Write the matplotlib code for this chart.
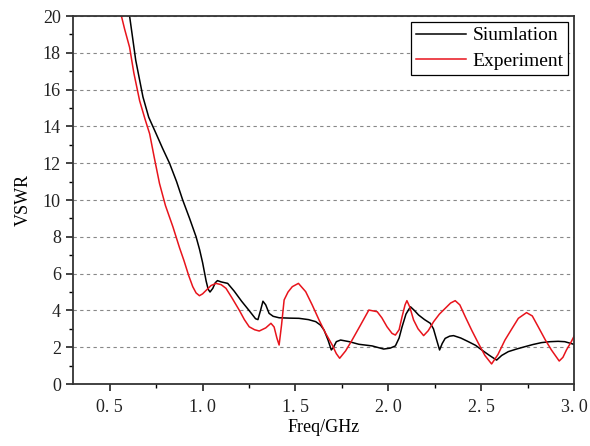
import matplotlib.pyplot as plt
from matplotlib.ticker import MultipleLocator

plt.rcParams['font.family'] = ['Liberation Serif', 'DejaVu Serif']

# simulation curve
sim_f = [0.58, 0.607, 0.64, 0.679, 0.71, 0.75, 0.785, 0.822, 0.86, 0.893,
         0.93, 0.965, 0.984, 1.0, 1.019, 1.03, 1.04, 1.055, 1.068, 1.08,
         1.10, 1.135, 1.17, 1.21, 1.25, 1.285, 1.298, 1.312, 1.325, 1.34,
         1.358, 1.38, 1.412, 1.47, 1.519, 1.57, 1.609, 1.635, 1.654, 1.675,
         1.693, 1.705, 1.72, 1.743, 1.79, 1.841, 1.913, 1.975, 2.01, 2.038,
         2.058, 2.074, 2.095, 2.119, 2.14, 2.163, 2.195, 2.226, 2.243,
         2.26, 2.276, 2.29, 2.306, 2.33, 2.351, 2.39, 2.431, 2.47, 2.503,
         2.545, 2.583, 2.61, 2.646, 2.69, 2.736, 2.78, 2.825, 2.87, 2.914,
         2.95, 2.985, 3.0]
sim_v = [22.0, 20.0, 17.6, 15.6, 14.5, 13.6, 12.8, 12.0, 11.0, 10.0,
         9.0, 8.0, 7.3, 6.6, 5.6, 5.15, 5.0, 5.2, 5.5, 5.62,
         5.55, 5.47, 5.05, 4.5, 4.0, 3.55, 3.5, 4.0, 4.5, 4.3,
         3.84, 3.68, 3.6, 3.58, 3.57, 3.5, 3.39, 3.2, 2.93, 2.4,
         1.85, 2.0, 2.3, 2.39, 2.3, 2.16, 2.07, 1.9, 1.95, 2.07,
         2.5, 3.11, 3.8, 4.2, 4.0, 3.75, 3.5, 3.3, 3.0,
         2.4, 1.85, 2.2, 2.48, 2.6, 2.63, 2.5, 2.3, 2.1, 1.85,
         1.55, 1.3, 1.55, 1.76, 1.9, 2.03, 2.15, 2.25, 2.3, 2.32,
         2.3, 2.2, 2.15]

# measured curve
exp_f = [0.53, 0.563, 0.58, 0.607, 0.63, 0.661, 0.69, 0.715, 0.74, 0.768,
         0.80, 0.84, 0.876, 0.90, 0.925, 0.947, 0.965, 0.983, 1.0, 1.02,
         1.045, 1.072, 1.10, 1.126, 1.16, 1.197, 1.225, 1.251, 1.28, 1.305,
         1.34, 1.368, 1.385, 1.40, 1.412, 1.425, 1.439, 1.46, 1.483, 1.516,
         1.555, 1.59, 1.627, 1.66, 1.698, 1.72, 1.738, 1.77, 1.805, 1.85,
         1.895, 1.94, 1.965, 1.993, 2.02, 2.038, 2.058, 2.074, 2.09, 2.1,
         2.115, 2.136, 2.16, 2.19, 2.215, 2.244, 2.275, 2.306, 2.335, 2.36,
         2.385, 2.414, 2.45, 2.485, 2.52, 2.556, 2.59, 2.628, 2.665, 2.7,
         2.744, 2.775, 2.807, 2.845, 2.878, 2.92, 2.94, 2.959, 2.985, 3.0]
exp_v = [22.0, 20.0, 19.3, 18.3, 16.9, 15.4, 14.4, 13.6, 12.3, 10.9,
         9.7, 8.55, 7.4, 6.7, 5.9, 5.29, 4.95, 4.8, 4.9, 5.1,
         5.35, 5.47, 5.4, 5.2, 4.65, 4.02, 3.5, 3.11, 2.95, 2.88,
         3.05, 3.3, 3.1, 2.5, 2.12, 3.2, 4.57, 5.0, 5.29, 5.47,
         5.02, 4.3, 3.48, 2.8, 2.12, 1.65, 1.4, 1.8, 2.39, 3.2,
         4.02, 3.93, 3.6, 3.11, 2.75, 2.66, 2.95, 3.66, 4.3, 4.53,
         4.2, 3.48, 3.0, 2.63, 2.9, 3.39, 3.8, 4.11, 4.4, 4.53,
         4.3, 3.66, 2.9, 2.21, 1.55, 1.09, 1.6, 2.39, 3.0, 3.57,
         3.88, 3.7, 3.11, 2.4, 1.85, 1.25, 1.45, 1.85, 2.3, 2.6]

fig = plt.figure(figsize=(5.9, 4.46), dpi=100)
ax = fig.add_axes([0.123, 0.139, 0.850, 0.825])

ax.plot(sim_f, sim_v, color='black', lw=1.1, label='Siumlation')
ax.plot(exp_f, exp_v, color='#e8141c', lw=1.1, label='Experiment')

ax.set_xlim(0.3, 3.0)
ax.set_ylim(0, 20)
ax.xaxis.set_minor_locator(MultipleLocator(0.25))
ax.yaxis.set_major_locator(MultipleLocator(2))
ax.yaxis.set_minor_locator(MultipleLocator(1))
ax.set_xticks([0.5, 1.0, 1.5, 2.0, 2.5, 3.0])
ax.set_xticklabels(['0. 5', '1. 0', '1. 5', '2. 0', '2. 5', '3. 0'])
ax.tick_params(which='major', direction='out', length=5, width=1.2,
               labelsize=13, colors='#222222')
ax.tick_params(axis='x', which='major', pad=6)
ax.tick_params(which='minor', direction='out', length=3, width=1.0)
ax.yaxis.grid(True, which='major', linestyle=(0, (3, 3)), color='#888888', lw=0.8)

for s in ax.spines.values():
    s.set_linewidth(1.3)
    s.set_color('#333333')

ax.set_xlabel('Freq/GHz', fontsize=13, labelpad=2)
ax.set_ylabel('VSWR', fontsize=13, labelpad=8)

leg = ax.legend(loc='upper right', fontsize=14, frameon=True, fancybox=False,
                edgecolor='black', framealpha=1, borderpad=0.25,
                handlelength=2.6, handletextpad=0.3, borderaxespad=0.3,
                labelspacing=0.4)
leg.get_frame().set_linewidth(0.9)

fig.savefig('out.png', dpi=100)
